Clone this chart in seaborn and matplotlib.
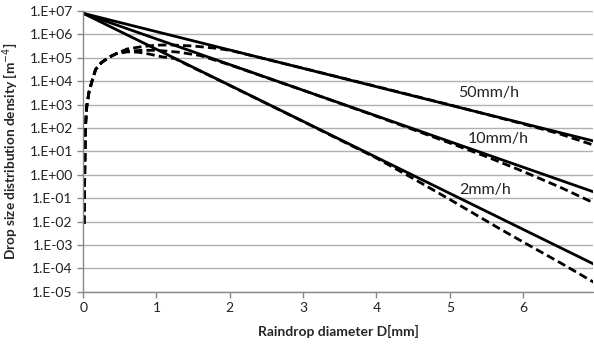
import matplotlib
matplotlib.use("Agg")
import numpy as np
import pandas as pd
import matplotlib.pyplot as plt
import seaborn as sns
from matplotlib.ticker import FixedLocator, FuncFormatter

# Marshall-Palmer lines (solid), straight on the log axis: ends
mp_d = [0.0, 7.0]
mp_50 = [8e6, 26.0]
mp_10 = [8e6, 0.17]
mp_2 = [8e6, 1.35e-4]

# gamma fits (dashed), common rising branch
rise_d = [0.012, 0.03, 0.05, 0.08, 0.12, 0.17, 0.25, 0.35, 0.45]
rise_n = [8e-3, 1e2, 9e2, 3.5e3, 1e4, 3.2e4, 6.3e4, 1.05e5, 1.5e5]

g50_d = [0.6, 0.8, 1.0, 1.2, 1.5, 1.8, 2.0, 3, 4, 5, 6, 6.5, 7]
g50_n = [2.4e5, 3.0e5, 3.5e5, 3.55e5, 3.2e5, 2.6e5, 2.1e5, 3.6e4, 6.0e3, 9.8e2, 1.5e2, 5.6e1, 1.7e1]

g10_d = [0.6, 0.8, 1.0, 1.3, 1.6, 2, 3, 4, 5, 5.5, 6, 6.5, 7]
g10_n = [1.9e5, 2.1e5, 2.1e5, 1.75e5, 1.25e5, 5.0e4, 4.1e3, 3.2e2, 2.3e1, 6.0, 1.4, 3.0e-1, 5.6e-2]

g2_d = [0.6, 0.75, 0.9, 1.08, 1.25, 1.5, 2, 3, 4, 4.5, 5, 5.67, 6, 6.5, 7]
g2_n = [1.8e5, 1.75e5, 1.45e5, 1.1e5, 9.3e4, 3.8e4, 6.6e3, 1.9e2, 5.2, 7e-1, 8.9e-2, 5.2e-3, 1.35e-3, 1.8e-4, 2.2e-5]

rates = ["50mm/h", "10mm/h", "2mm/h"]
label_d = [5.12, 5.24, 5.13]
label_n = [10**3.5, 10**1.53, 10**-0.64]

sns.set_style("white")
plt.rcParams["font.family"] = ["Lato", "DejaVu Sans"]

fig = plt.figure(figsize=(5.94, 3.45), dpi=100)
ax = fig.add_axes([0.14, 0.154, 0.858, 0.814])

for d, n in [(mp_d, mp_50), (mp_d, mp_10), (mp_d, mp_2)]:
    sns.lineplot(x=d, y=n, ax=ax, color="black", lw=2.0, sort=False)

for d, n in [(g50_d, g50_n), (g10_d, g10_n), (g2_d, g2_n)]:
    df = pd.DataFrame({"D": rise_d + d, "N": rise_n + n})
    sns.lineplot(data=df, x="D", y="N", ax=ax, color="black", lw=2.0,
                 sort=False, dashes=False, linestyle=(0, (3, 1.5)))

ax.set_yscale("log")
ax.set_ylim(1e-5, 1e7)
ax.set_xlim(0, 6.95)
ax.yaxis.set_major_locator(FixedLocator([10.0**k for k in range(-5, 8)]))
ax.yaxis.set_minor_locator(FixedLocator([]))
ax.yaxis.set_major_formatter(FuncFormatter(lambda v, p: "1.E%+03d" % round(np.log10(v))))
ax.set_xticks(range(0, 7))

ax.grid(axis="y", color="#b0b0b0", lw=1.0)
ax.grid(axis="x", visible=False)
for s in ["top", "right"]:
    ax.spines[s].set_visible(False)
for s in ["left", "bottom"]:
    ax.spines[s].set_color("#888888")
    ax.spines[s].set_linewidth(1.0)
ax.tick_params(axis="both", which="major", length=4, width=1, color="#888888",
               labelsize=10, labelcolor="#222222", direction="out", bottom=True, left=True)

ax.set_xlabel("Raindrop diameter D[mm]", fontsize=10, fontweight="bold", labelpad=8)
ax.set_ylabel("Drop size distribution density [m$^{-4}$]", fontsize=9.8,
              fontweight="bold", labelpad=6)

for t, d, n in zip(rates, label_d, label_n):
    ax.text(d, n, t, fontsize=11.5, color="#222222", va="center", ha="left")

fig.savefig("out.png", dpi=100)
